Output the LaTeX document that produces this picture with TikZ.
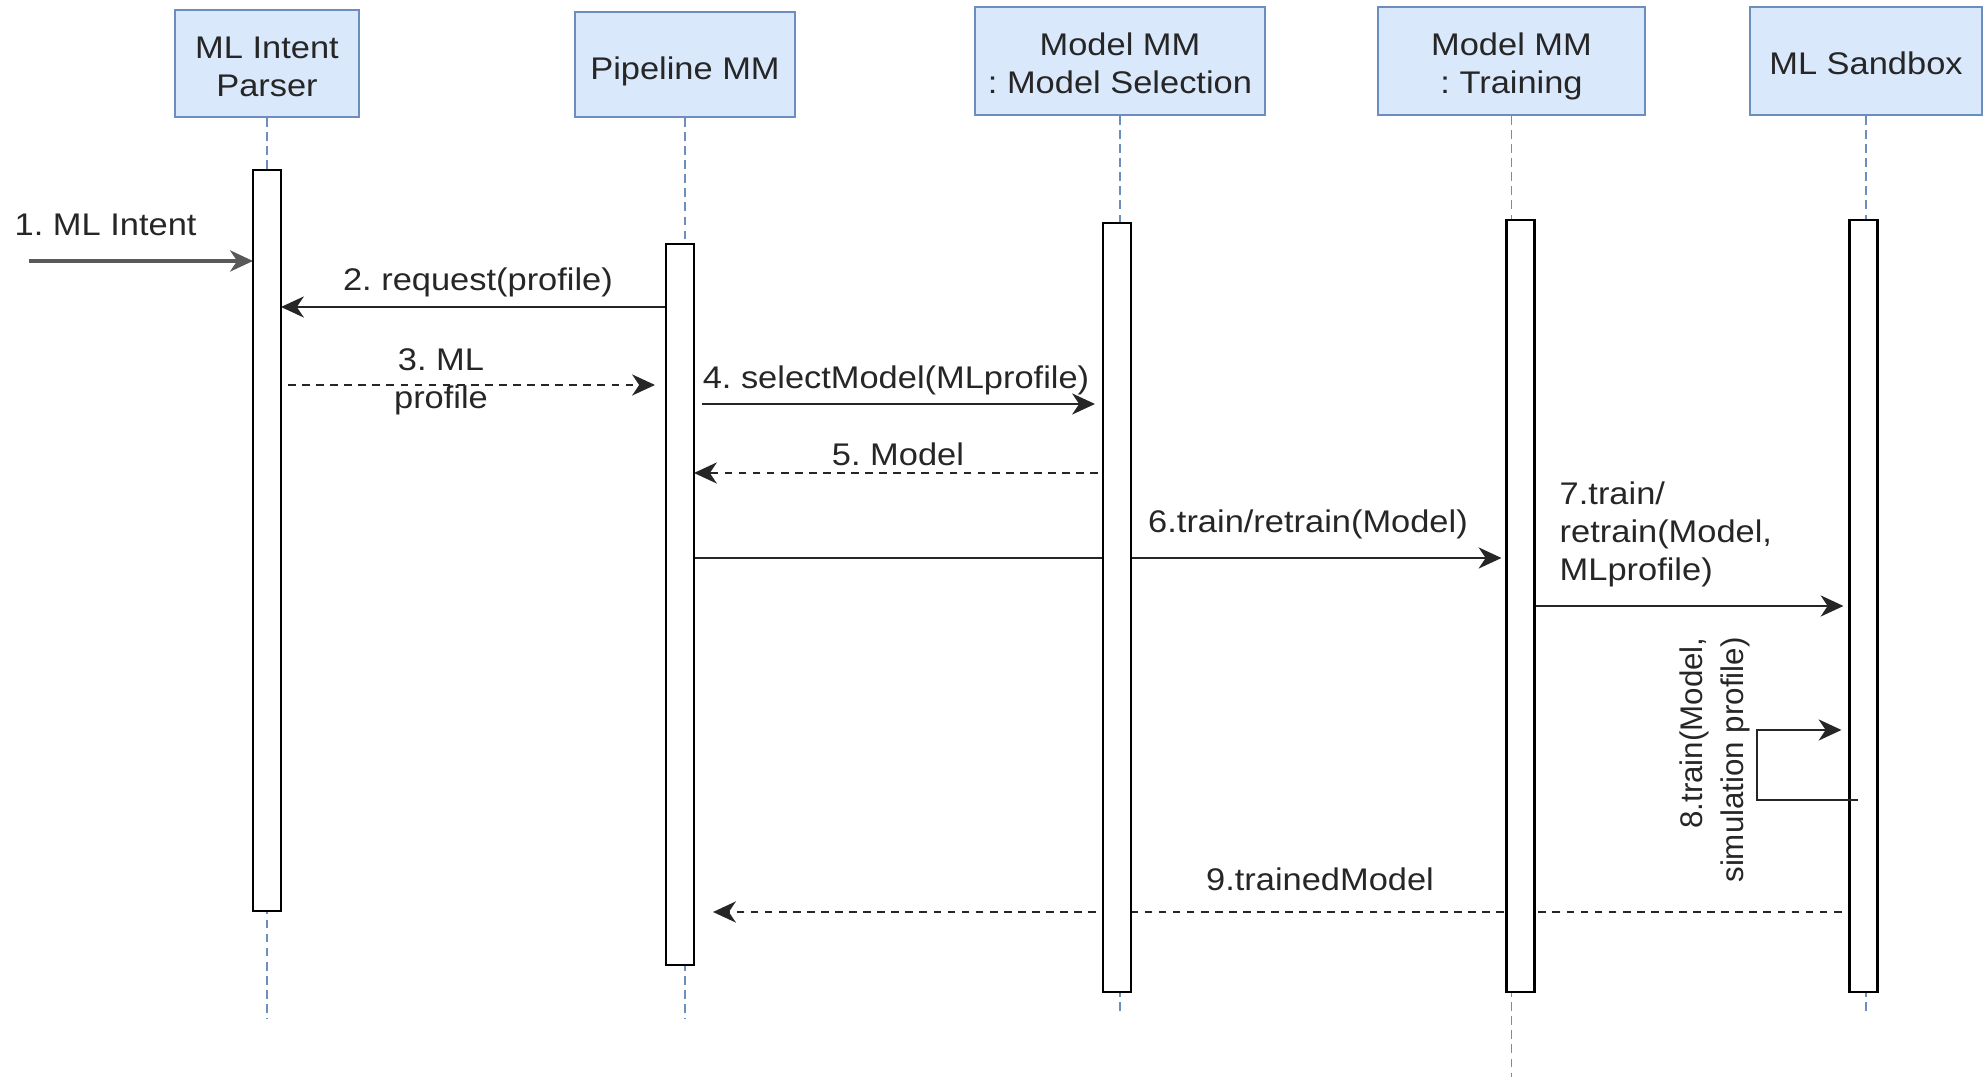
\documentclass[tikz,border=0pt]{standalone}
\usepackage{fontspec}
\setmainfont[FakeStretch=1.1]{Liberation Sans}
\newfontfamily\upfont{Liberation Sans}
\usetikzlibrary{arrows.meta}
\definecolor{boxfill}{HTML}{DAE8FC}
\definecolor{boxline}{HTML}{6C8EBF}
\pgfdeclarelayer{back}
\pgfsetlayers{back,main}
\frenchspacing
\tikzset{
  actor/.style={draw=boxline, fill=boxfill, line width=0.6pt, inner sep=0pt},
  actortext/.style={align=center, inner sep=0pt,
    font=\fontsize{8.9}{10.8}\selectfont, text=black!85},
  bar/.style={draw=black, fill=white, line width=0.6pt, inner sep=0pt,
    outer sep=0pt, minimum width=0.28cm},
  life/.style={draw=boxline, line width=0.45pt, dash pattern=on 2.4pt off 1.6pt},
  msg/.style={draw=black!85, line width=0.7pt,
    -{Stealth[length=6.5pt, width=6pt, inset=2pt]}},
  reply/.style={msg, dash pattern=on 2.2pt off 1.8pt},
  lbl/.style={font=\fontsize{8.9}{10.8}\selectfont, text=black!85, inner sep=0pt}
}
\begin{document}
\begin{tikzpicture}[x=0.01cm, y=-0.01cm]
\useasboundingbox (0,0) rectangle (1984,1077);

% participants
\node[actor, minimum width=1.84cm, minimum height=1.07cm,
  label={[actortext, yshift=-0.03cm]center:ML Intent\\Parser}] (parser) at (267,63.5) {};
\node[actor, minimum width=2.20cm, minimum height=1.05cm,
  label={[actortext, yshift=-0.07cm]center:Pipeline MM}] (pipe) at (685,64.5) {};
\node[actor, minimum width=2.89cm, minimum height=1.08cm,
  label={[actortext, yshift=-0.02cm]center:Model MM\\: Model Selection}] (msel) at (1120,61) {};
\node[actor, minimum width=2.67cm, minimum height=1.08cm,
  label={[actortext, yshift=-0.05cm]center:Model MM\\: Training}] (train) at (1511.5,61) {};
\node[actor, minimum width=2.32cm, minimum height=1.08cm,
  label={[actortext, yshift=-0.02cm]center:ML Sandbox}] (sand) at (1866,61) {};

% activation bars
\node[bar, minimum height=7.41cm] (bParser) at (267,540.5) {};
\node[bar, minimum height=7.21cm] (bPipe) at (680,604.5) {};
\node[bar, minimum height=7.69cm] (bMsel) at (1117,607.5) {};
\node[bar, minimum height=7.72cm] (bTrain) at (1520.5,606) {};
\node[bar, minimum height=7.72cm] (bSand) at (1863.5,606) {};

% lifeline ends and message rows
\coordinate (eParser) at (267,1019);
\coordinate (ePipe) at (685,1019);
\coordinate (eMsel) at (1120,1013);
\coordinate (eTrain) at (1511.5,1077);
\coordinate (eSand) at (1866,1013);
\coordinate (start1) at (29,261);
\coordinate (y2) at (0,307);
\coordinate (y3) at (0,385);
\coordinate (y4) at (0,404);
\coordinate (y5) at (0,473);
\coordinate (y6) at (0,558);
\coordinate (y7) at (0,606);
\coordinate (y9) at (0,912);
\coordinate (loopTop) at (1757,730);
\coordinate (loopBot) at (1757,800);

\begin{pgfonlayer}{back}
  \draw[life] (parser.south) -- (eParser);
  \draw[life] (pipe.south) -- (ePipe);
  \draw[life] (msel.south) -- (eMsel);
  \draw[life] (train.south) -- (eTrain);
  \draw[life] (sand.south) -- (eSand);

  \draw[msg, draw=black!65, line width=1.1pt] (start1) -- (bParser.west |- start1);
  \draw[msg] (bPipe.west |- y2) -- (bParser.east |- y2);
  \draw[reply, shorten <=0.07cm, shorten >=0.11cm] (bParser.east |- y3) -- (bPipe.west |- y3);
  \draw[msg, shorten <=0.08cm, shorten >=0.08cm] (bPipe.east |- y4) -- (bMsel.west |- y4);
  \draw[reply, shorten <=0.05cm] (bMsel.west |- y5) -- (bPipe.east |- y5);
  \draw[msg, shorten >=0.05cm] (bPipe.east |- y6) -- (bTrain.west |- y6);
  \draw[msg, shorten >=0.06cm] (bTrain.east |- y7) -- (bSand.west |- y7);
  \draw[reply, shorten <=0.08cm, shorten >=0.19cm] (bSand.west |- y9) -- (bPipe.east |- y9);
\end{pgfonlayer}

% self call inside the sandbox
\draw[msg, shorten >=0.08cm] ([xshift=0.08cm]bSand.west |- loopBot) -- (loopBot) -- (loopTop) -- (bSand.west |- loopTop);

% message labels
\node[lbl, anchor=west] (l1) at (14,225) {1. ML Intent};
\node[lbl] (l2) at (478,282) {2. request(profile)};
\node[lbl, align=center] (l3) at (441,382) {3. ML\\profile};
\node[lbl] (l4) at (896,380) {4. selectModel(MLprofile)};
\node[lbl] (l5) at (898,454) {5. Model};
\node[lbl] (l6) at (1308,524) {6.train/retrain(Model)};
\node[lbl, anchor=west, align=left] (l7) at (1559,534) {7.train/\\retrain(Model,\\MLprofile)};
\node[lbl, font=\upfont\fontsize{8.9}{11.7}\selectfont, rotate=90, align=right] (l8) at (1715,760) {8.train(Model,\\simulation profile)};
\node[lbl] (l9) at (1320,879) {9.trainedModel};
\end{tikzpicture}
\end{document}
